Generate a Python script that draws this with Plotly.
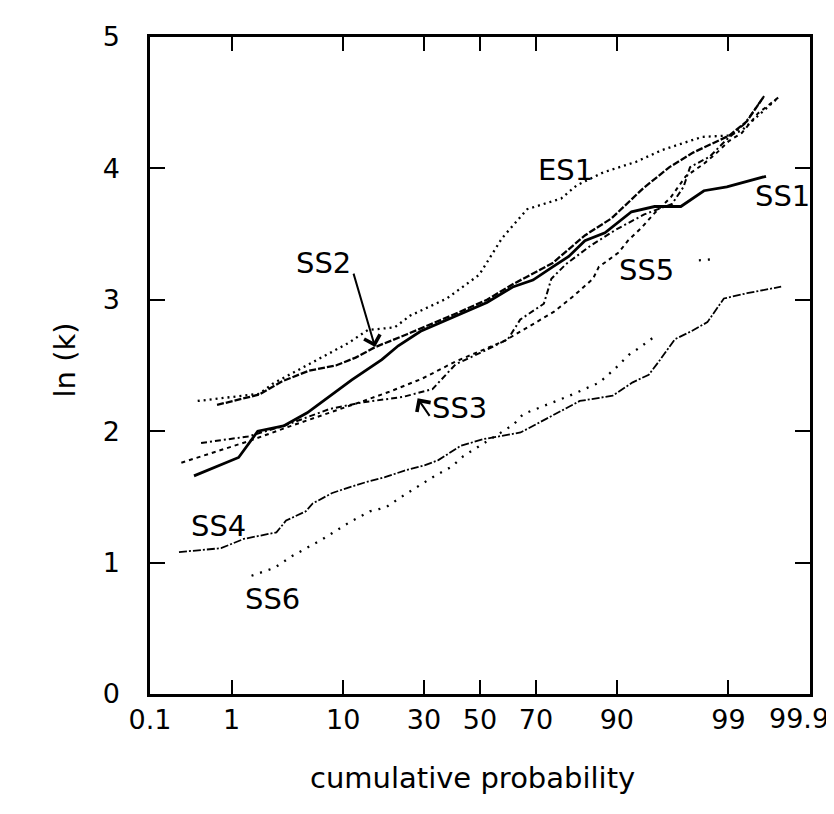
import plotly.graph_objects as go
from statistics import NormalDist

_nd = NormalDist()


def zq(p):
    """normal-probability scale position of a cumulative probability in %"""
    return _nd.inv_cdf(p / 100.0)


# ---------------- data (cumulative probability in %, ln k) ----------------
tick_probs = [0.1, 1, 10, 30, 50, 70, 90, 99, 99.9]
tick_text = ["0.1", "1", "10", "30", "50", "70", "90", "99", ""]
last_tick_label = "99.9"
y_ticks = [0, 1, 2, 3, 4, 5]

ES1_p = [0.41, 1.95, 2.59, 3.92, 6.89, 10.85, 14.67, 21.2, 25.7, 37.8, 49.7, 58.2,
         67.1, 77.6, 81.7, 87.6, 92.8, 95.6, 98.13, 99.02, 99.29, 99.55, 99.74]
ES1_y = [2.23, 2.285, 2.36, 2.44, 2.56, 2.67, 2.77, 2.79, 2.88, 3.01, 3.19, 3.47,
         3.69, 3.77, 3.87, 3.97, 4.05, 4.14, 4.24, 4.25, 4.29, 4.41, 4.54]

SS1_p = [0.37, 1.19, 1.87, 3.29, 5.28, 7.52, 11.5, 17.9, 22.2, 28.9, 40.5, 52.6,
         62.3, 69.0, 75.2, 79.7, 83.7, 87.9, 92.2, 94.9, 97.0, 98.2, 98.96, 99.63]
SS1_y = [1.66, 1.80, 2.00, 2.04, 2.14, 2.25, 2.39, 2.545, 2.65, 2.76, 2.87, 2.98,
         3.10, 3.15, 3.25, 3.33, 3.45, 3.51, 3.67, 3.71, 3.71, 3.83, 3.86, 3.94]

SS2_p = [0.69, 1.95, 3.2, 5.44, 8.85, 12.2, 16.3, 24.9, 40.5, 52.6, 62.2, 75.2,
         83.7, 89.1, 93.7, 96.2, 97.7, 99.02, 99.38, 99.61]
SS2_y = [2.20, 2.28, 2.38, 2.46, 2.50, 2.56, 2.64, 2.74, 2.89, 3.00, 3.12, 3.28,
         3.49, 3.62, 3.85, 4.01, 4.12, 4.25, 4.36, 4.55]

SS3_p = [0.45, 1.49, 3.29, 8.0, 13.6, 23.4, 32.8, 41.0, 50.5, 60.3, 64.7, 72.5,
         74.8, 78.9, 84.9, 89.7, 93.8, 96.4, 97.17, 97.54, 98.43, 98.92, 99.34, 99.61]
SS3_y = [1.91, 1.96, 2.04, 2.17, 2.22, 2.26, 2.32, 2.51, 2.60, 2.70, 2.85, 2.97,
         3.16, 3.27, 3.41, 3.53, 3.65, 3.73, 3.86, 4.01, 4.09, 4.21, 4.34, 4.55]

SS4_p = [0.241, 0.766, 1.345, 2.83, 3.47, 5.14, 5.86, 8.33, 11.57, 14.07, 18.67,
         24.0, 30.15, 34.83, 42.93, 51.4, 64.8, 70.5, 82.5, 89.3, 92.3, 94.3, 95.3,
         96.6, 97.6, 98.34, 98.77, 98.88, 99.38, 99.76]
SS4_y = [1.08, 1.11, 1.18, 1.23, 1.32, 1.39, 1.45, 1.53, 1.58, 1.61, 1.65, 1.70,
         1.74, 1.78, 1.89, 1.94, 1.99, 2.06, 2.23, 2.27, 2.37, 2.43, 2.53, 2.70,
         2.76, 2.83, 2.97, 3.01, 3.05, 3.10]

SS5_p = [0.258, 0.715, 1.60, 3.28, 8.02, 13.0, 19.8, 29.4, 40.9, 50.4, 59.3, 67.2,
         75.6, 81.0, 85.5, 86.7, 90.3, 91.7, 93.5, 94.9, 96.3, 97.3, 98.16, 98.63,
         99.02, 99.29, 99.54, 99.74]
SS5_y = [1.76, 1.85, 1.93, 2.02, 2.14, 2.22, 2.30, 2.40, 2.53, 2.61, 2.69, 2.79,
         2.91, 3.03, 3.16, 3.25, 3.36, 3.45, 3.55, 3.66, 3.78, 3.94, 4.03, 4.11,
         4.21, 4.27, 4.42, 4.54]

SS6_p = [1.62, 2.71, 3.93, 6.79, 11.2, 15.1, 18.9, 22.5, 28.4, 33.6, 39.5, 43.8,
         62.3, 65.7, 79.9, 86.8, 89.8, 91.8, 93.1, 94.9, None, 97.98, 98.63]
SS6_y = [0.90, 0.96, 1.05, 1.17, 1.31, 1.39, 1.42, 1.49, 1.585, 1.66, 1.73, 1.81,
         2.05, 2.13, 2.27, 2.37, 2.48, 2.58, 2.63, 2.72, None, 3.30, 3.31]

# label positions (probability %, ln k)
labels = [
    ("ES1", 78.7, 3.99),
    ("SS1", 99.77, 3.79),
    ("SS2", 7.16, 3.28),
    ("SS3", 42.5, 2.18),
    ("SS4", 0.71, 1.275),
    ("SS5", 94.1, 3.23),
    ("SS6", 2.59, 0.72),
]

FONT = "DejaVu Sans"
series = [
    ("ES1", ES1_p, ES1_y, "2px,4px", 2.3),
    ("SS1", SS1_p, SS1_y, "solid", 2.8),
    ("SS2", SS2_p, SS2_y, "7px,2px", 2.3),
    ("SS3", SS3_p, SS3_y, "6px,3px,2px,3px", 2.0),
    ("SS4", SS4_p, SS4_y, "8px,2px,2px,2px", 1.8),
    ("SS5", SS5_p, SS5_y, "4px,4px", 2.0),
    ("SS6", SS6_p, SS6_y, "2px,7px", 2.3),
]

fig = go.Figure()
for name, ps, ys, dash, w in series:
    xs = [zq(p) if p is not None else None for p in ps]
    fig.add_trace(go.Scatter(x=xs, y=ys, mode="lines", name=name,
                             line=dict(color="black", width=w, dash=dash),
                             connectgaps=False, showlegend=False))

ann = []
for txt, p, y in labels:
    ann.append(dict(x=zq(p), y=y, xref="x", yref="y", text=txt, showarrow=False,
                    font=dict(family=FONT, size=29, color="black")))
# arrows for SS2 and SS3
ann.append(dict(x=zq(16.3), y=2.64, xref="x", yref="y", text="", showarrow=True,
                ax=-22, ay=-75, arrowhead=4, arrowsize=1.6, arrowwidth=2,
                arrowcolor="black", standoff=0))
ann.append(dict(x=zq(27.96), y=2.25, xref="x", yref="y", text="", showarrow=True,
                ax=13, ay=19, arrowhead=4, arrowsize=1.6, arrowwidth=2,
                arrowcolor="black", standoff=0))
# last x tick label kept inside the page
ann.append(dict(x=0.983, y=-0.037, xref="paper", yref="paper", text=last_tick_label,
                showarrow=False, xanchor="center", yanchor="middle",
                font=dict(family=FONT, size=27, color="black")))
# axis titles
ann.append(dict(x=0.488, y=-0.128, xref="paper", yref="paper", text="cumulative probability",
                showarrow=False, xanchor="center", yanchor="middle",
                font=dict(family=FONT, size=29, color="black")))
ann.append(dict(x=-0.129, y=0.509, xref="paper", yref="paper", text="ln (k)",
                showarrow=False, xanchor="center", yanchor="middle", textangle=-90,
                font=dict(family=FONT, size=29, color="black")))

fig.update_layout(
    width=834, height=814,
    margin=dict(l=142, r=32, t=29, b=128, autoexpand=False),
    paper_bgcolor="white", plot_bgcolor="white",
    annotations=ann,
    font=dict(family=FONT, size=27, color="black"),
)
fig.update_xaxes(
    range=[zq(0.1), zq(99.9)], automargin=False,
    tickmode="array", tickvals=[zq(p) for p in tick_probs], ticktext=tick_text,
    showgrid=False, zeroline=False,
    showline=True, linecolor="black", linewidth=2.5, mirror="ticks",
    ticks="inside", ticklen=14, tickwidth=2, tickcolor="black",
    ticklabelstandoff=0,
    tickfont=dict(family=FONT, size=27, color="black"),
)
fig.update_yaxes(
    range=[0, 5], tickmode="array", tickvals=y_ticks, automargin=False,
    showgrid=False, zeroline=False,
    showline=True, linecolor="black", linewidth=2.5, mirror="ticks",
    ticks="inside", ticklen=15, tickwidth=2, tickcolor="black",
    ticklabelstandoff=22,
    tickfont=dict(family=FONT, size=27, color="black"),
)

fig.write_html("out.html")
